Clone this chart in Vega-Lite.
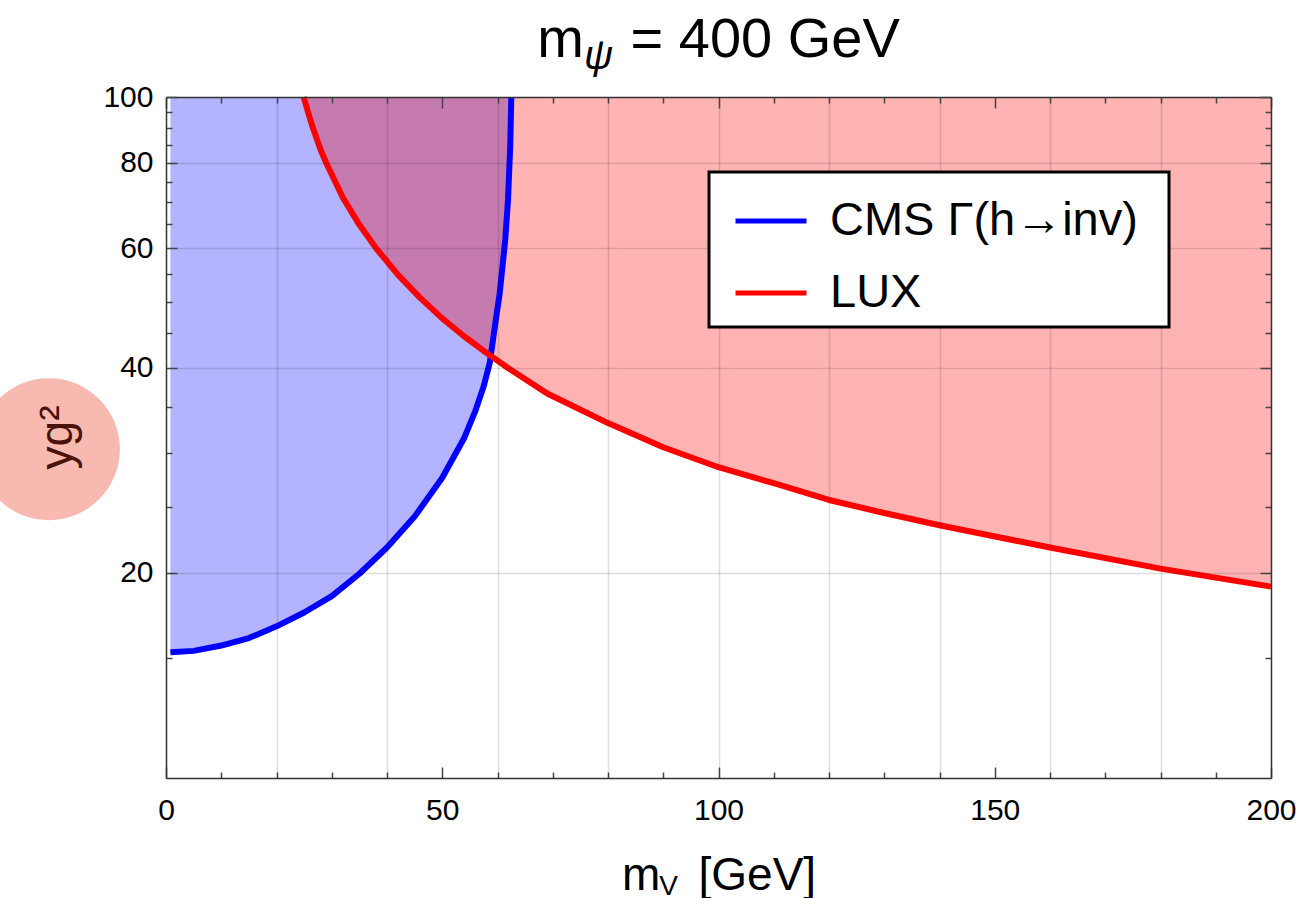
{
  "$schema": "https://vega.github.io/schema/vega-lite/v6.json",
  "width": 1105,
  "height": 681,
  "autosize": "none",
  "padding": {"left": 166, "top": 97, "right": 27, "bottom": 120},
  "background": "white",
  "title": {"text": "m\u00a0\u00a0\u00a0= 400 GeV", "fontSize": 56, "font": "Liberation Sans", "fontWeight": "normal", "color": "black", "anchor": "middle", "offset": 0, "dy": 33},
  "config": {
    "view": {"stroke": null},
    "axis": {"domainColor": "#333333", "domainWidth": 1.5, "tickColor": "#444444", "tickWidth": 1.5, "labelFont": "Liberation Sans", "labelFontSize": 30, "labelColor": "black", "titleFont": "Liberation Sans", "titleFontWeight": "normal", "titleColor": "black", "gridColor": "black", "gridWidth": 1.5, "zindex": 1},
    "legend": {"strokeWidth": 3}
  },
  "data": {"values": [
    {"series": "CMS Γ(h→inv)", "mV": 0.8, "yg2": 15.3},
    {"series": "CMS Γ(h→inv)", "mV": 5, "yg2": 15.37},
    {"series": "CMS Γ(h→inv)", "mV": 10, "yg2": 15.65},
    {"series": "CMS Γ(h→inv)", "mV": 15, "yg2": 16.05},
    {"series": "CMS Γ(h→inv)", "mV": 20, "yg2": 16.7},
    {"series": "CMS Γ(h→inv)", "mV": 25, "yg2": 17.5},
    {"series": "CMS Γ(h→inv)", "mV": 30, "yg2": 18.5},
    {"series": "CMS Γ(h→inv)", "mV": 35, "yg2": 19.95},
    {"series": "CMS Γ(h→inv)", "mV": 40, "yg2": 21.8},
    {"series": "CMS Γ(h→inv)", "mV": 45, "yg2": 24.2},
    {"series": "CMS Γ(h→inv)", "mV": 50, "yg2": 27.6},
    {"series": "CMS Γ(h→inv)", "mV": 54, "yg2": 31.6},
    {"series": "CMS Γ(h→inv)", "mV": 56, "yg2": 34.6},
    {"series": "CMS Γ(h→inv)", "mV": 57.5, "yg2": 37.6},
    {"series": "CMS Γ(h→inv)", "mV": 58.6, "yg2": 40.7},
    {"series": "CMS Γ(h→inv)", "mV": 59.5, "yg2": 45.9},
    {"series": "CMS Γ(h→inv)", "mV": 60.4, "yg2": 51.5},
    {"series": "CMS Γ(h→inv)", "mV": 61.4, "yg2": 61.7},
    {"series": "CMS Γ(h→inv)", "mV": 61.9, "yg2": 70.6},
    {"series": "CMS Γ(h→inv)", "mV": 62.3, "yg2": 84.5},
    {"series": "CMS Γ(h→inv)", "mV": 62.5, "yg2": 100},
    {"series": "LUX", "mV": 24.9, "yg2": 100},
    {"series": "LUX", "mV": 26.5, "yg2": 90.5},
    {"series": "LUX", "mV": 28, "yg2": 83.6},
    {"series": "LUX", "mV": 29, "yg2": 80.0},
    {"series": "LUX", "mV": 32, "yg2": 71.2},
    {"series": "LUX", "mV": 35, "yg2": 64.9},
    {"series": "LUX", "mV": 38, "yg2": 60.0},
    {"series": "LUX", "mV": 42, "yg2": 54.8},
    {"series": "LUX", "mV": 46, "yg2": 50.7},
    {"series": "LUX", "mV": 50, "yg2": 47.3},
    {"series": "LUX", "mV": 54, "yg2": 44.5},
    {"series": "LUX", "mV": 58, "yg2": 42.1},
    {"series": "LUX", "mV": 61.9, "yg2": 40.0},
    {"series": "LUX", "mV": 69, "yg2": 36.7},
    {"series": "LUX", "mV": 80, "yg2": 33.2},
    {"series": "LUX", "mV": 90, "yg2": 30.6},
    {"series": "LUX", "mV": 100, "yg2": 28.6},
    {"series": "LUX", "mV": 110, "yg2": 27.1},
    {"series": "LUX", "mV": 120, "yg2": 25.6},
    {"series": "LUX", "mV": 130, "yg2": 24.5},
    {"series": "LUX", "mV": 140, "yg2": 23.5},
    {"series": "LUX", "mV": 160, "yg2": 21.8},
    {"series": "LUX", "mV": 180, "yg2": 20.3},
    {"series": "LUX", "mV": 200, "yg2": 19.1},
    {"series": "overlap", "mV": 24.9, "yg2": 100},
    {"series": "overlap", "mV": 26.5, "yg2": 90.5},
    {"series": "overlap", "mV": 28, "yg2": 83.6},
    {"series": "overlap", "mV": 29, "yg2": 80.0},
    {"series": "overlap", "mV": 32, "yg2": 71.2},
    {"series": "overlap", "mV": 35, "yg2": 64.9},
    {"series": "overlap", "mV": 38, "yg2": 60.0},
    {"series": "overlap", "mV": 42, "yg2": 54.8},
    {"series": "overlap", "mV": 46, "yg2": 50.7},
    {"series": "overlap", "mV": 50, "yg2": 47.3},
    {"series": "overlap", "mV": 54, "yg2": 44.5},
    {"series": "overlap", "mV": 58, "yg2": 42.1},
    {"series": "overlap", "mV": 58.77, "yg2": 41.7},
    {"series": "overlap", "mV": 59.5, "yg2": 45.9},
    {"series": "overlap", "mV": 60.4, "yg2": 51.5},
    {"series": "overlap", "mV": 61.4, "yg2": 61.7},
    {"series": "overlap", "mV": 61.9, "yg2": 70.6},
    {"series": "overlap", "mV": 62.3, "yg2": 84.5},
    {"series": "overlap", "mV": 62.5, "yg2": 100}
  ]},
  "layer": [
    {
      "transform": [{"filter": "datum.series === 'CMS Γ(h→inv)'"}],
      "mark": {"type": "area", "color": "#b3b3ff", "opacity": 1},
      "encoding": {
        "x": {"field": "mV", "type": "quantitative", "scale": {"domain": [0, 200], "nice": false, "zero": false},
          "axis": {"orient": "bottom", "zindex": 1, "values": [0,10,20,30,40,50,60,70,80,90,100,110,120,130,140,150,160,170,180,190,200],
            "labelExpr": "datum.value % 50 === 0 ? format(datum.value, 'd') : ''", "labelFlush": false, "labelOverlap": false, "labelPadding": 28,
            "tickSize": {"condition": {"test": "datum.value % 50 === 0", "value": -11}, "value": -6},
            "grid": true, "gridOpacity": {"condition": {"test": "datum.value % 20 === 0 && datum.value > 0 && datum.value < 200", "value": 0.13}, "value": 0},
            "title": "m\u00a0\u00a0\u00a0[GeV]", "titleFontSize": 46, "titleX": 552.5, "titleY": 111, "titleAlign": "center", "titleBaseline": "alphabetic"}},
        "y": {"field": "yg2", "type": "quantitative", "scale": {"type": "log", "domain": [10, 100], "nice": false},
          "axis": {"orient": "left", "zindex": 1, "values": [15,20,25,30,35,40,45,50,55,60,65,70,75,80,85,90,95,100],
            "labelExpr": "datum.value % 20 === 0 ? format(datum.value, 'd') : ''", "labelOverlap": false, "labelPadding": 24,
            "tickSize": {"condition": {"test": "datum.value % 20 === 0", "value": -11}, "value": -6},
            "grid": true, "gridOpacity": {"condition": {"test": "datum.value % 20 === 0 && datum.value < 100", "value": 0.13}, "value": 0},
            "title": "yg²", "titleFontSize": 46, "titleColor": "#4a1208", "titleAngle": -90, "titleX": -109, "titleY": 340, "titleAlign": "center", "titleBaseline": "middle"}},
        "y2": {"datum": 100}
      }
    },
    {
      "transform": [{"filter": "datum.series === 'LUX'"}],
      "mark": {"type": "area", "color": "#ffb3b3", "opacity": 1},
      "encoding": {
        "x": {"field": "mV", "type": "quantitative",
          "axis": {"orient": "top", "zindex": 1, "values": [0,10,20,30,40,50,60,70,80,90,100,110,120,130,140,150,160,170,180,190,200],
            "labels": false, "grid": false,
            "tickSize": {"condition": {"test": "datum.value % 50 === 0", "value": -11}, "value": -6},
            "title": "ψ", "titleFontSize": 40, "titleFontStyle": "italic", "titleX": 432, "titleY": -41, "titleAlign": "center", "titleBaseline": "middle"}},
        "y": {"field": "yg2", "type": "quantitative",
          "axis": {"orient": "right", "zindex": 1, "values": [15,20,25,30,35,40,45,50,55,60,65,70,75,80,85,90,95,100],
            "labels": false, "grid": false,
            "tickSize": {"condition": {"test": "datum.value % 20 === 0", "value": -11}, "value": -6},
            "title": "V", "titleFontSize": 28, "titleAngle": 0, "titleX": -603, "titleY": 797, "titleAlign": "center", "titleBaseline": "alphabetic"}},
        "y2": {"datum": 100}
      }
    },
    {
      "transform": [{"filter": "datum.series === 'overlap'"}],
      "mark": {"type": "area", "color": "#c67bb0", "opacity": 1},
      "encoding": {
        "x": {"field": "mV", "type": "quantitative", "axis": null},
        "y": {"field": "yg2", "type": "quantitative", "axis": null},
        "y2": {"datum": 100}
      }
    },
    {
      "data": {"values": [{"note": "label badge"}]},
      "mark": {"type": "circle", "size": 20164, "color": "#f8b9b1", "opacity": 1},
      "encoding": {
        "x": {"datum": -21.2, "type": "quantitative", "axis": null},
        "y": {"datum": 30.4, "type": "quantitative", "axis": null}
      }
    },
    {
      "transform": [{"filter": "datum.series !== 'overlap'"}],
      "mark": {"type": "line", "strokeWidth": 6, "strokeCap": "butt", "strokeJoin": "round"},
      "encoding": {
        "x": {"field": "mV", "type": "quantitative", "axis": null},
        "y": {"field": "yg2", "type": "quantitative", "axis": null},
        "color": {"field": "series", "type": "nominal",
          "scale": {"domain": ["CMS Γ(h→inv)", "LUX"], "range": ["#0000ff", "#ff0000"]},
          "legend": {"title": "\u2003", "titleOrient": "right", "titlePadding": 20, "titleFontSize": 24, "orient": "none", "legendX": 543, "legendY": 75, "symbolType": "stroke", "symbolSize": 5041, "symbolStrokeWidth": 5, "symbolOffset": 13,
            "labelFontSize": 47, "labelFont": "Liberation Sans", "labelColor": "black", "labelOffset": 21, "labelLimit": 0, "padding": 11, "rowPadding": 11,
            "fillColor": "white", "strokeColor": "black", "zindex": 2}}
      }
    }
  ],
  "resolve": {"axis": {"x": "independent", "y": "independent"}}
}
